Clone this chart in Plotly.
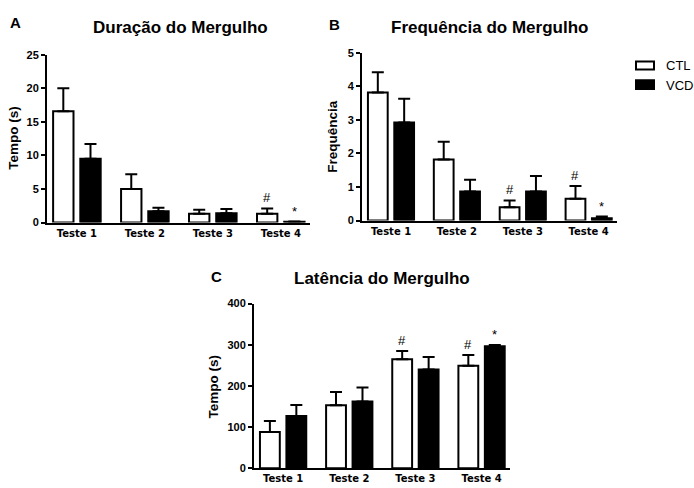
import plotly.graph_objects as go

categories = ["Teste 1", "Teste 2", "Teste 3", "Teste 4"]

# Panel A - Duração do Mergulho (s)
dur_ctl = [16.6, 5.0, 1.3, 1.3]
dur_ctl_err = [3.4, 2.2, 0.6, 0.8]
dur_vcd = [9.5, 1.7, 1.4, 0.1]
dur_vcd_err = [2.2, 0.5, 0.6, 0.05]

# Panel B - Frequência do Mergulho
freq_ctl = [3.82, 1.82, 0.40, 0.65]
freq_ctl_err = [0.60, 0.53, 0.20, 0.38]
freq_vcd = [2.92, 0.87, 0.87, 0.07]
freq_vcd_err = [0.71, 0.35, 0.46, 0.05]

# Panel C - Latência do Mergulho (s)
lat_ctl = [88, 153, 265, 249]
lat_ctl_err = [27, 32, 20, 26]
lat_vcd = [127, 162, 240, 296]
lat_vcd_err = [27, 34, 30, 3]

# significance marks: (panel, category index, group, symbol)
marks = [
    ("A", 3, "CTL", "#"), ("A", 3, "VCD", "*"),
    ("B", 2, "CTL", "#"), ("B", 3, "CTL", "#"), ("B", 3, "VCD", "*"),
    ("C", 2, "CTL", "#"), ("C", 3, "CTL", "#"), ("C", 3, "VCD", "*"),
]

W, H = 694, 488
FONT = "Liberation Sans, Arial, sans-serif"
XFONT = "DejaVu Sans, sans-serif"

def px(x):
    return x / W

def py(y):
    return 1 - y / H

panels = {
    "A": dict(xa="x", ya="y", ctl=dur_ctl, ce=dur_ctl_err, vcd=dur_vcd, ve=dur_vcd_err,
              xd=[px(47), px(310)], yd=[py(222), py(50)], yr=[0, 25], dt=5),
    "B": dict(xa="x2", ya="y2", ctl=freq_ctl, ce=freq_ctl_err, vcd=freq_vcd, ve=freq_vcd_err,
              xd=[px(362), px(617)], yd=[py(220), py(48)], yr=[0, 5], dt=1),
    "C": dict(xa="x3", ya="y3", ctl=lat_ctl, ce=lat_ctl_err, vcd=lat_vcd, ve=lat_vcd_err,
              xd=[px(254), px(510)], yd=[py(474), py(305)], yr=[0, 400], dt=100),
}

fig = go.Figure()
for name, p in panels.items():
    for grp, vals, errs, fill in [("CTL", p["ctl"], p["ce"], "white"), ("VCD", p["vcd"], p["ve"], "black")]:
        fig.add_trace(go.Bar(
            x=categories, y=vals, name=grp, xaxis=p["xa"], yaxis=p["ya"],
            marker=dict(color=fill, line=dict(color="black", width=2)),
            error_y=dict(type="data", array=errs, arrayminus=[0] * len(errs), symmetric=False,
                         color="black", thickness=2, width=6),
            showlegend=False, offsetgroup=grp,
        ))

layout = dict(
    width=W, height=H, margin=dict(l=0, r=0, t=0, b=0),
    paper_bgcolor="white", plot_bgcolor="white",
    barmode="group", bargap=0.2, bargroupgap=0.25,
    font=dict(family=FONT, color="black"),
)

for name, p in panels.items():
    xk = "xaxis" + p["xa"][1:]
    yk = "yaxis" + p["ya"][1:]
    layout[xk] = dict(domain=p["xd"], anchor=p["ya"], type="category", range=[-0.44, 3.43],
                      showline=True, linecolor="black", linewidth=2, ticks="",
                      tickfont=dict(size=10, weight="bold", family=XFONT, color="black"),
                      showgrid=False, zeroline=False, fixedrange=True)
    layout[yk] = dict(domain=p["yd"], anchor=p["xa"], range=p["yr"], dtick=p["dt"], tick0=0,
                      showline=True, linecolor="black", linewidth=2, ticks="outside",
                      ticklen=4, tickwidth=1.5, tickcolor="black",
                      tickfont=dict(size=11, weight="bold", family=FONT, color="black"),
                      showgrid=False, zeroline=False, fixedrange=True)
fig.update_layout(**layout)

ann = []
def txt(x, y, s, size, bold=True, angle=0, xanchor="center"):
    ann.append(dict(x=px(x), y=py(y), xref="paper", yref="paper", text=s, showarrow=False,
                    textangle=angle, xanchor=xanchor, yanchor="middle",
                    font=dict(size=size, family=FONT, color="black",
                              weight="bold" if bold else "normal")))

txt(15, 17, "A", 15)
txt(334, 19, "B", 15)
txt(216, 277, "C", 15)
txt(180, 22, "Duração do Mergulho", 17)
txt(490, 22, "Frequência do Mergulho", 17)
txt(382, 279, "Latência do Mergulho", 17)
txt(14, 135, "Tempo (s)", 13.5, angle=-90)
txt(333, 134, "Frequência", 13.5, angle=-90)
txt(213, 390, "Tempo (s)", 13.5, angle=-90)
txt(664, 61, "CTL", 13, bold=False, xanchor="left")
txt(664, 81, "VCD", 13, bold=False, xanchor="left")

for panel, idx, grp, sym in marks:
    p = panels[panel]
    if grp == "CTL":
        top = p["ctl"][idx] + p["ce"][idx]
        xoff = -0.2
    else:
        top = p["vcd"][idx] + p["ve"][idx]
        xoff = 0.2
    ann.append(dict(x=idx + xoff, y=top, xref=p["xa"], yref=p["ya"], text=sym, showarrow=False,
                    xanchor="center", yanchor="bottom", yshift=1,
                    font=dict(size=13, family=FONT, color="black")))

fig.update_layout(annotations=ann)

shapes = [
    dict(type="rect", xref="paper", yref="paper", x0=px(636), x1=px(654), y0=py(65), y1=py(57),
         fillcolor="white", line=dict(color="black", width=2)),
    dict(type="rect", xref="paper", yref="paper", x0=px(636), x1=px(654), y0=py(85), y1=py(76),
         fillcolor="black", line=dict(color="black", width=2)),
]
fig.update_layout(shapes=shapes)

fig.write_html("out.html")
